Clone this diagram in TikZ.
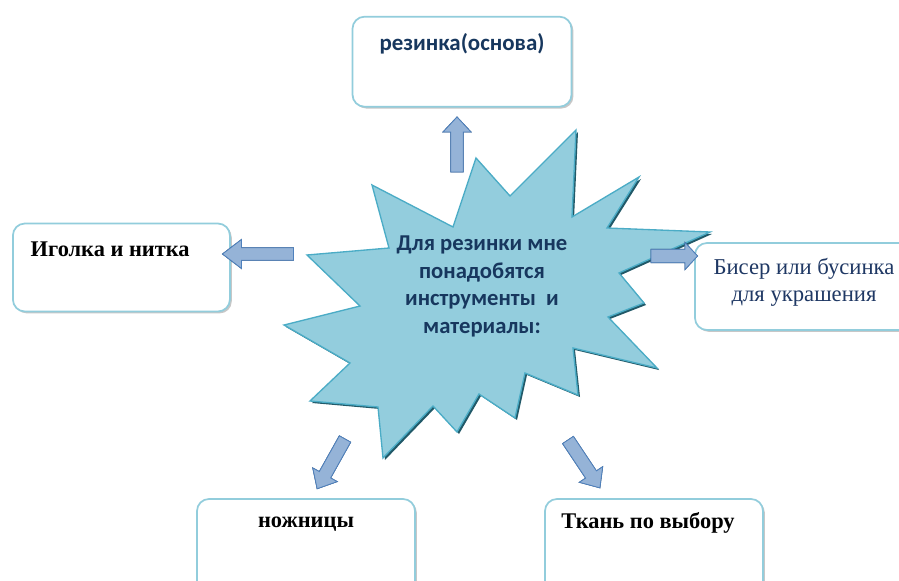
\documentclass[tikz,border=0pt]{standalone}
\usepackage{fontspec}
\setmainfont{Liberation Serif}
\newfontfamily\calfont{Carlito}
\definecolor{starfill}{HTML}{93CDDD}
\definecolor{stardraw}{HTML}{4BACC6}
\definecolor{starshadow}{HTML}{215968}
\definecolor{arrfill}{HTML}{95B3D7}
\definecolor{arrdraw}{HTML}{4F81BD}
\definecolor{arrshadow}{HTML}{2C4D75}
\definecolor{boxdraw}{HTML}{92CDDC}
\definecolor{navy}{HTML}{17375E}
\definecolor{navytwo}{HTML}{1F3864}
\tikzset{
  infobox/.style={draw=boxdraw, line width=1.3pt, fill=white, rounded corners=9pt,
    preaction={fill=black!22, transform canvas={xshift=1.4pt,yshift=-1.4pt}}},
  arrowbody/.style={fill=arrfill, draw=arrdraw, line width=0.6pt, line join=miter},
  arrowshade/.style={fill=arrshadow, draw=arrshadow, line width=0.6pt},
  startext/.style={font=\calfont\bfseries\fontsize{17}{20.8}\selectfont, text=navy, align=center},
  serifbold/.style={font=\bfseries\fontsize{16.8}{20}\selectfont, text=black},
}
% #1 tail coordinate, #2 angle, #3 length, #4 shaft half width, #5 head half width, #6 head length, #7 style
\newcommand\blockarr[7]{%
  \begin{scope}[shift={(#1)},rotate=#2]
    \path[#7] (0,-#4) -- ({#3-#6},-#4) -- ({#3-#6},-#5) -- (#3,0) -- ({#3-#6},#5) -- ({#3-#6},#4) -- (0,#4) -- cycle;
  \end{scope}}
\newcommand\shadedarr[6]{%
  \begin{scope}[shift={(1.6,1.6)}]\blockarr{#1}{#2}{#3}{#4}{#5}{#6}{arrowshade}\end{scope}%
  \blockarr{#1}{#2}{#3}{#4}{#5}{#6}{arrowbody}}
\begin{document}
\begin{tikzpicture}[x=0.75pt,y=-0.75pt]
\useasboundingbox (0,0) rectangle (899,581);
\clip (0,0) rectangle (899,581);
\fill[white] (0,0) rectangle (899,581);

% boxes
\node[infobox, minimum width=164.25pt, minimum height=67.5pt] (top) at (462,61.7) {};
\node[infobox, minimum width=162.75pt, minimum height=66pt] (left) at (121.4,267.5) {};
\node[infobox, minimum width=172.5pt, minimum height=65.25pt] (right) at (810,286.5) {};
\node[infobox, minimum width=163.5pt, minimum height=75.75pt] (botl) at (306,549.5) {};
\node[infobox, minimum width=163.5pt, minimum height=75.75pt] (botr) at (654,549.5) {};

% box texts
\node[font=\calfont\bfseries\fontsize{17.2}{20}\selectfont, text=navy] (toptxt) at (462,44) {резинка(основа)};
\node[serifbold, anchor=west] (lefttxt) at (26,249) {Иголка и нитка};
\node[font=\fontsize{17}{20.5}\selectfont, text=navytwo, align=center] (righttxt) at (804,282) {Бисер или бусинка\\для украшения};
\node[serifbold] (botltxt) at (306,524) {ножницы};
\node[serifbold] (botrtxt) at (648,523) {Ткань по выбору};

% star
\def\starpath{(372,185) -- (453,227) -- (476,158) -- (510,196) -- (576,130) -- (572,217) -- (639,177) -- (607,228) -- (710,232) -- (619,273) -- (644,303) -- (608,317) -- (657,368) -- (573,348) -- (578,395) -- (525,373) -- (515,418) -- (479,394) -- (457,432) -- (433,406) -- (383,458) -- (378,407) -- (310,401) -- (350,363) -- (284,325) -- (360,306) -- (307,255) -- (389,248) -- cycle}
\fill[starshadow, shift={(2,2)}] \starpath;
\filldraw[fill=starfill, draw=stardraw, line width=1pt, line join=miter] \starpath;
\node[startext] (star) at (482,286.5) {Для резинки мне\\понадобятся\\инструменты~ и\\материалы:};

% arrows
\coordinate (a1) at (457,172);
\coordinate (a2) at (293.5,254);
\coordinate (a3) at (651,256);
\coordinate (a4) at (345,439);
\coordinate (a5) at (568,440);
\shadedarr{a1}{90}{55}{6.2}{14}{15}
\shadedarr{a2}{180}{71}{6.2}{14.5}{19}
\shadedarr{a3}{0}{46.5}{6.7}{13.5}{12.5}
\shadedarr{a4}{240.75}{57}{6.5}{14}{16}
\shadedarr{a5}{-56.3}{57.5}{6.5}{14}{16}
\end{tikzpicture}
\end{document}
